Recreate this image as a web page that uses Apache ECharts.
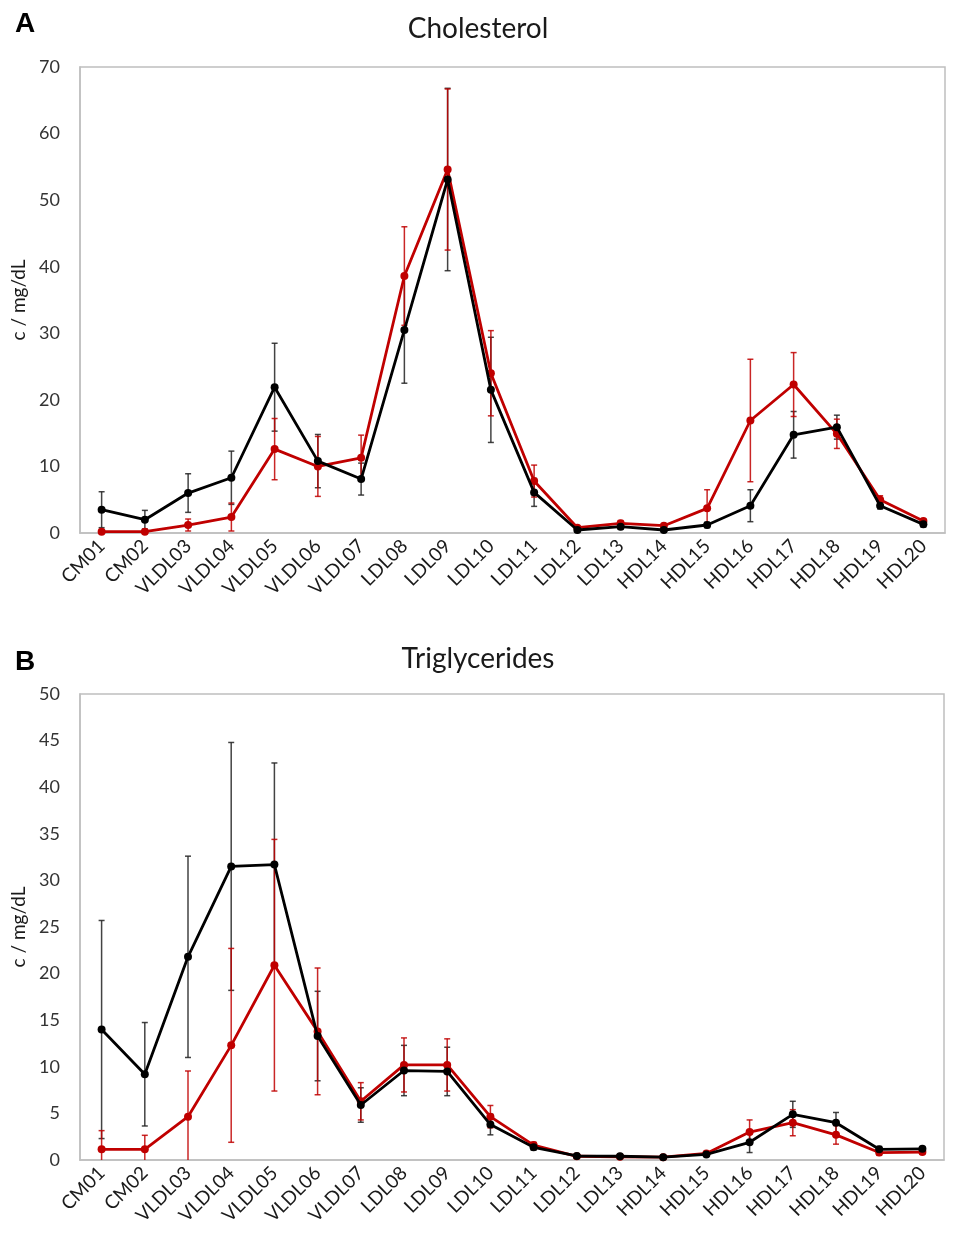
<!DOCTYPE html>
<html>
<head>
<meta charset="utf-8">
<script src="https://cdn.jsdelivr.net/npm/echarts@6/dist/echarts.min.js"></script>
<style>
html,body{margin:0;padding:0;background:#fff;}
#chart{width:961px;height:1250px;}
</style>
</head>
<body>
<div id="chart"></div>
<script>
var categories = ['CM01','CM02','VLDL03','VLDL04','VLDL05','VLDL06','VLDL07','LDL08','LDL09','LDL10','LDL11','LDL12','LDL13','HDL14','HDL15','HDL16','HDL17','HDL18','HDL19','HDL20'];

// Panel A: Cholesterol
var cholBlack   = [3.5, 2.0, 6.0, 8.3, 21.9, 10.8, 8.1, 30.5, 53.1, 21.5, 6.1, 0.45, 0.95, 0.45, 1.2, 4.1, 14.75, 15.9, 4.1, 1.3];
var cholBlackSD = [2.7, 1.4, 2.9, 4.0, 6.6, 4.0, 2.4, 8.0, 13.7, 7.9, 2.1, 0.3, 0.4, 0.3, 0.4, 2.4, 3.5, 1.8, 0.5, 0.4];
var cholRed     = [0.2, 0.2, 1.2, 2.4, 12.6, 10.0, 11.3, 38.6, 54.6, 24.0, 7.8, 0.8, 1.46, 1.1, 3.7, 16.9, 22.3, 14.9, 5.0, 1.8];
var cholRedSD   = [0.3, 0.3, 0.9, 2.1, 4.6, 4.5, 3.4, 7.4, 12.1, 6.4, 2.4, 0.3, 0.4, 0.3, 2.8, 9.2, 4.8, 2.2, 0.6, 0.3];

// Panel B: Triglycerides
var tgBlack   = [14.0, 9.2, 21.8, 31.5, 31.7, 13.3, 5.9, 9.6, 9.5, 3.8, 1.36, 0.43, 0.4, 0.3, 0.6, 1.9, 4.9, 4.0, 1.15, 1.2];
var tgBlackSD = [11.7, 5.55, 10.8, 13.3, 10.9, 4.8, 1.85, 2.7, 2.6, 1.1, 0.3, 0.1, 0.1, 0.1, 0.2, 1.1, 1.4, 1.1, 0.3, 0.2];
var tgRed     = [1.15, 1.15, 4.65, 12.3, 20.9, 13.8, 6.3, 10.2, 10.2, 4.65, 1.6, 0.4, 0.35, 0.3, 0.7, 3.0, 4.0, 2.7, 0.8, 0.85];
var tgRedSD   = [2.0, 1.5, 4.9, 10.4, 13.5, 6.8, 2.0, 2.9, 2.8, 1.2, 0.3, 0.1, 0.1, 0.1, 0.2, 1.3, 1.4, 1.0, 0.3, 0.2];

var yTicksA = {min: 0, max: 70, interval: 10};
var yTicksB = {min: 0, max: 50, interval: 5};

var FONT = 'Lato';
var RED = '#c00000';
var BLACK = '#000000';

function errData(vals, sd) {
  return vals.map(function (v, i) { return [i, v - sd[i], v + sd[i]]; });
}

function errSeries(gridIdx, vals, sd, color, z) {
  return {
    type: 'custom',
    xAxisIndex: gridIdx, yAxisIndex: gridIdx,
    z: z,
    clip: true,
    silent: true,
    data: errData(vals, sd),
    encode: {x: 0, y: [1, 2]},
    renderItem: function (params, api) {
      var x = api.value(0);
      var lo = api.coord([x, api.value(1)]);
      var hi = api.coord([x, api.value(2)]);
      var cw = 3;
      var st = {stroke: color, lineWidth: 1.5, opacity: 0.85};
      return {
        type: 'group',
        children: [
          {type: 'line', shape: {x1: lo[0], y1: lo[1], x2: hi[0], y2: hi[1]}, style: st},
          {type: 'line', shape: {x1: hi[0] - cw, y1: hi[1], x2: hi[0] + cw, y2: hi[1]}, style: st},
          {type: 'line', shape: {x1: lo[0] - cw, y1: lo[1], x2: lo[0] + cw, y2: lo[1]}, style: st}
        ]
      };
    }
  };
}

function lineSeries(gridIdx, vals, color, z) {
  return {
    type: 'line',
    xAxisIndex: gridIdx, yAxisIndex: gridIdx,
    data: vals,
    z: z,
    symbol: 'circle',
    symbolSize: 8,
    lineStyle: {color: color, width: 2.8},
    itemStyle: {color: color},
    animation: false
  };
}

function xAxis(gridIdx) {
  return {
    type: 'category', gridIndex: gridIdx, data: categories, boundaryGap: true,
    axisLine: {show: true, lineStyle: {color: '#bfbfbf', width: 1.5}},
    axisTick: {show: false},
    axisLabel: {rotate: 45, margin: 10, fontFamily: FONT, fontSize: 19, color: '#1a1a1a', interval: 0}
  };
}

function yAxis(gridIdx, t) {
  return {
    type: 'value', gridIndex: gridIdx, min: t.min, max: t.max, interval: t.interval,
    name: 'c / mg/dL', nameLocation: 'middle', nameRotate: 90, nameGap: 42,
    nameTextStyle: {fontFamily: FONT, fontSize: 19, color: '#1a1a1a'},
    axisLine: {show: true, lineStyle: {color: '#bfbfbf', width: 1.5}},
    axisTick: {show: false},
    splitLine: {show: false},
    axisLabel: {margin: 20, fontFamily: FONT, fontSize: 18, color: '#333333'}
  };
}

var chart = echarts.init(document.getElementById('chart'), null, {renderer: 'canvas'});
chart.setOption({
  backgroundColor: '#ffffff',
  animation: false,
  title: [
    {text: 'A', left: 10, top: 5, textStyle: {fontFamily: 'Liberation Sans', fontWeight: 'bold', fontSize: 28, color: '#000'}},
    {text: 'Cholesterol', left: 473, top: 10, textAlign: 'center', textStyle: {fontFamily: FONT, fontWeight: 'normal', fontSize: 28, color: '#1a1a1a'}},
    {text: 'B', left: 10, top: 643, textStyle: {fontFamily: 'Liberation Sans', fontWeight: 'bold', fontSize: 28, color: '#000'}},
    {text: 'Triglycerides', left: 473, top: 640, textAlign: 'center', textStyle: {fontFamily: FONT, fontWeight: 'normal', fontSize: 28, color: '#1a1a1a'}}
  ],
  grid: [
    {left: 80, top: 67, width: 865, height: 466, show: true, borderColor: '#bfbfbf', borderWidth: 1.5, backgroundColor: 'transparent'},
    {left: 80, top: 694, width: 864, height: 466, show: true, borderColor: '#bfbfbf', borderWidth: 1.5, backgroundColor: 'transparent'}
  ],
  xAxis: [xAxis(0), xAxis(1)],
  yAxis: [yAxis(0, yTicksA), yAxis(1, yTicksB)],
  series: [
    errSeries(0, cholBlack, cholBlackSD, '#222222', 2),
    errSeries(0, cholRed, cholRedSD, RED, 3),
    lineSeries(0, cholRed, RED, 4),
    lineSeries(0, cholBlack, BLACK, 5),
    errSeries(1, tgBlack, tgBlackSD, '#222222', 2),
    errSeries(1, tgRed, tgRedSD, RED, 3),
    lineSeries(1, tgRed, RED, 4),
    lineSeries(1, tgBlack, BLACK, 5)
  ]
});
</script>
</body>
</html>
